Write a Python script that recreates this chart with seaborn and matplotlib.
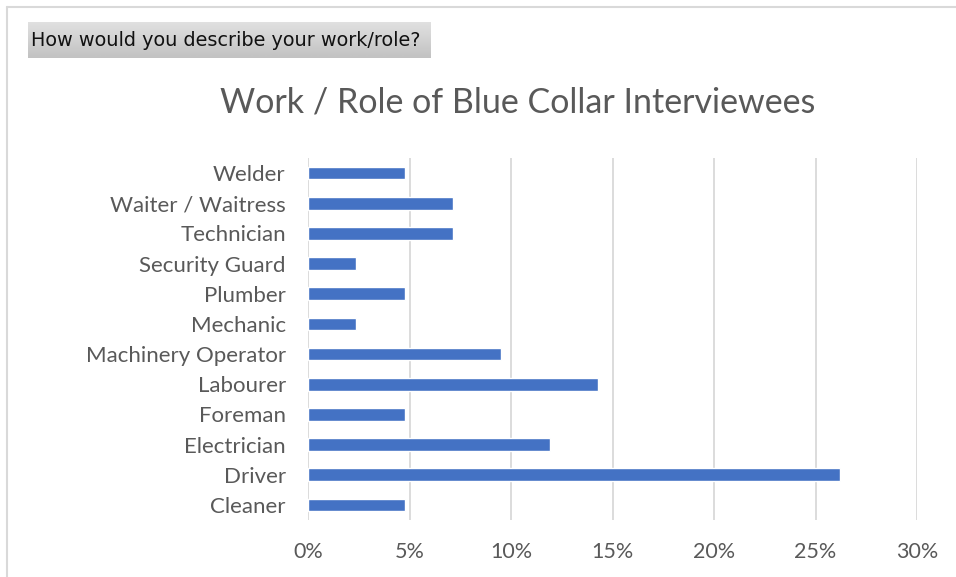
import matplotlib
matplotlib.use("Agg")
import matplotlib.pyplot as plt
from matplotlib.ticker import PercentFormatter
import numpy as np
import pandas as pd
import seaborn as sns

roles = ["Welder", "Waiter / Waitress", "Technician", "Security Guard", "Plumber",
         "Mechanic", "Machinery Operator", "Labourer", "Foreman", "Electrician",
         "Driver", "Cleaner"]
shares = [0.0476, 0.0714, 0.0714, 0.0238, 0.0476,
          0.0238, 0.0952, 0.1429, 0.0476, 0.1190,
          0.2619, 0.0476]
x_ticks = [0.0, 0.05, 0.10, 0.15, 0.20, 0.25, 0.30]

df = pd.DataFrame({"role": roles, "share": shares})

sns.set_theme(style="white")
plt.rcParams["font.family"] = ["Lato", "DejaVu Sans"]

W, H = 956, 577
fig = plt.figure(figsize=(W / 100, H / 100), dpi=100)
ax = fig.add_axes([308 / W, 1 - 520 / H, (917 - 308) / W, (520 - 158) / H])

sns.barplot(data=df, x="share", y="role", order=roles, color="#4472C4",
            width=0.42, saturation=1, ax=ax, zorder=3)

ax.set_xlim(0, 0.30)
ax.set_xticks(x_ticks)
ax.xaxis.set_major_formatter(PercentFormatter(1.0, decimals=0))
ax.grid(axis="x", color="#d9d9d9", linewidth=1.3, zorder=0)
ax.grid(axis="y", visible=False)
for s in ax.spines.values():
    s.set_visible(False)
ax.set_xlabel("")
ax.set_ylabel("")
ax.tick_params(axis="x", length=0, pad=16, labelsize=15.5, labelcolor="#595959")
ax.tick_params(axis="y", length=0, pad=16, labelsize=16, labelcolor="#595959")

fig.text(518 / W, 1 - 103 / H, "Work / Role of Blue Collar Interviewees",
         ha="center", va="center", fontsize=24.5, color="#595959")

# outer frame
fig.add_artist(plt.Line2D([6.5 / W, 1], [1 - 6.5 / H, 1 - 6.5 / H],
                          transform=fig.transFigure, color="#d9d9d9", lw=1.5))
fig.add_artist(plt.Line2D([6.5 / W, 6.5 / W], [0, 1 - 6.5 / H],
                          transform=fig.transFigure, color="#d9d9d9", lw=1.5))

# question header with a grey gradient
hx0, hx1, hy0, hy1 = 28, 430, 22, 58
grad = np.linspace(0.88, 0.76, 64).reshape(-1, 1)
hax = fig.add_axes([hx0 / W, 1 - hy1 / H, (hx1 - hx0) / W, (hy1 - hy0) / H])
hax.imshow(grad, cmap="gray", vmin=0, vmax=1, aspect="auto", extent=[0, 1, 0, 1])
hax.set_axis_off()
hax.text(0.008, 0.5, "How would you describe your work/role?", ha="left", va="center",
         fontsize=13.9, color="#111111", family=["DejaVu Sans"], transform=hax.transAxes)

fig.savefig("out.png", dpi=100)
